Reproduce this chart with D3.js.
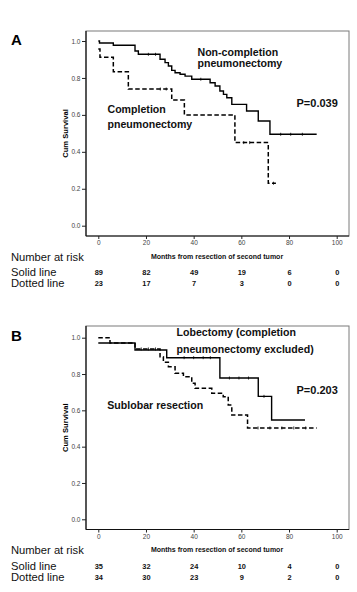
<!DOCTYPE html>
<html><head><meta charset="utf-8">
<script src="https://cdn.jsdelivr.net/npm/d3@7/dist/d3.min.js"></script>
<style>
html,body{margin:0;padding:0;background:#fff;}
svg{display:block;}
text{font-family:"Liberation Sans",Arial,sans-serif;}
</style></head>
<body>
<svg id="c" width="357" height="592"></svg>
<script>
// ---------- data ----------
const xTicks = [0, 20, 40, 60, 80, 100];
const yTicks = [0, 0.2, 0.4, 0.6, 0.8, 1.0];
const riskTimes = [0, 20, 40, 60, 80, 100];

// Panel A
const aSolidT = [0, 0.5, 6.3, 15.4, 16.8, 25.9, 28, 29.4, 30.8, 32.2, 34.3, 36.4, 39.2, 46.9, 49, 51, 52.5, 53.9, 56, 62.2, 67.1, 72, 91.6];
const aSolidS = [1.0, 0.989, 0.977, 0.946, 0.928, 0.901, 0.883, 0.865, 0.841, 0.828, 0.82, 0.81, 0.793, 0.774, 0.756, 0.729, 0.711, 0.693, 0.657, 0.621, 0.567, 0.495, 0.495];
const aSolidCens = [21, 24, 43, 76.5, 80.7, 85.6];
const aDotT = [0, 0.7, 6.3, 12.6, 30.8, 36.1, 57.3, 71.3, 74.5];
const aDotS = [0.957, 0.912, 0.834, 0.74, 0.68, 0.60, 0.45, 0.23, 0.23];
const aDotCens = [26, 28.5, 61, 63.5, 73.5];
const aRiskSolid = [89, 82, 49, 19, 6, 0];
const aRiskDot = [23, 17, 7, 3, 0, 0];

// Panel B
const bSolidT = [0, 15.4, 28.7, 51, 67.1, 72.7, 86.7];
const bSolidS = [0.971, 0.932, 0.89, 0.778, 0.677, 0.547, 0.547];
const bSolidCens = [36, 40, 44, 47, 55, 59, 63, 69.5];
const bDotT = [0, 4.9, 15.4, 25.9, 27.3, 29.4, 32.2, 35.7, 39.2, 40.6, 47.6, 52.4, 54.5, 56, 62.6, 91.6];
const bDotS = [1.0, 0.971, 0.938, 0.895, 0.865, 0.84, 0.804, 0.785, 0.749, 0.721, 0.694, 0.675, 0.629, 0.574, 0.503, 0.503];
const bDotCens = [18, 21, 24, 67, 72, 77, 82, 87];
const bRiskSolid = [35, 32, 24, 10, 4, 0];
const bRiskDot = [34, 30, 23, 9, 2, 0];

// ---------- drawing ----------
const svg = d3.select("#c");
svg.append("rect").attr("width", 357).attr("height", 592).attr("fill", "#fff");

function zip(T, S) { return T.map((t, i) => ({t, s: S[i]})); }
function stepAt(T, S, t) { let v = S[0]; for (let i = 0; i < T.length; i++) if (T[i] <= t) v = S[i]; return v; }

function drawPanel(p) {
  const g = svg.append("g");
  const x = d3.scaleLinear().domain([0, 100]).range([98.3, 336.7]);
  const y = d3.scaleLinear().domain([0, 1]).range([p.y0, p.y1]);

  // frame
  g.append("rect").attr("x", 86).attr("y", p.top).attr("width", 263).attr("height", p.bottom - p.top)
    .attr("fill", "none").attr("stroke", "#7a7a7a").attr("stroke-width", 1);
  g.append("line").attr("x1", 86).attr("x2", 86).attr("y1", p.top).attr("y2", p.bottom).attr("stroke", "#111").attr("stroke-width", 1.2);
  g.append("line").attr("x1", 86).attr("x2", 349).attr("y1", p.bottom).attr("y2", p.bottom).attr("stroke", "#111").attr("stroke-width", 1.2);

  // axes
  const ya = g.append("g").attr("transform", "translate(86,0)")
    .call(d3.axisLeft(y).tickValues(yTicks).tickFormat(d3.format(".1f")).tickSize(4).tickPadding(1.5));
  ya.select(".domain").remove();
  ya.selectAll("text").attr("font-size", 6.5).attr("fill", "#444").attr("font-family", "Liberation Sans, Arial, sans-serif");
  ya.selectAll("line").attr("stroke", "#222");

  const xa = g.append("g").attr("transform", `translate(0,${p.bottom})`)
    .call(d3.axisBottom(x).tickValues(xTicks).tickFormat(d3.format("d")).tickSize(3).tickPadding(1.5));
  xa.select(".domain").remove();
  xa.selectAll("text").attr("font-size", 6.5).attr("fill", "#444").attr("font-family", "Liberation Sans, Arial, sans-serif");
  xa.selectAll("line").attr("stroke", "#222");

  // y label
  g.append("text").attr("transform", `translate(${p.ylabX},${(p.top + p.bottom) / 2}) rotate(-90)`)
    .attr("text-anchor", "middle").attr("font-size", 7.6).attr("font-weight", "bold").text("Cum Survival");

  // curves
  const line = d3.line().x(d => x(d.t)).y(d => y(d.s)).curve(d3.curveStepAfter);
  g.append("path").attr("d", line(zip(p.solidT, p.solidS))).attr("fill", "none").attr("stroke", "#000").attr("stroke-width", 1.4);
  g.append("path").attr("d", line(zip(p.dotT, p.dotS))).attr("fill", "none").attr("stroke", "#000").attr("stroke-width", 1.5).attr("stroke-dasharray", "4.5,2.5");

  // censor marks
  p.solidCens.forEach(t => {
    const v = stepAt(p.solidT, p.solidS, t);
    g.append("line").attr("x1", x(t)).attr("x2", x(t)).attr("y1", y(v) - 1.5).attr("y2", y(v) + 1.5).attr("stroke", "#000").attr("stroke-width", 0.8);
  });
  p.dotCens.forEach(t => {
    const v = stepAt(p.dotT, p.dotS, t);
    g.append("line").attr("x1", x(t)).attr("x2", x(t)).attr("y1", y(v) - 1.5).attr("y2", y(v) + 1.5).attr("stroke", "#000").attr("stroke-width", 0.8);
  });

  // panel letter
  g.append("text").attr("x", 11).attr("y", p.letterY).attr("font-size", 15).attr("font-weight", "bold").text(p.letter);

  // annotations
  p.notes.forEach(n => {
    g.append("text").attr("x", n.x).attr("y", n.y).attr("font-size", n.size || 10.6).attr("font-weight", "bold")
      .attr("fill", "#111").text(n.text);
  });

  // number at risk
  const r0 = p.bottom;
  g.append("text").attr("x", 11).attr("y", r0 + 24.5).attr("font-size", 11.2).attr("fill", "#111").text("Number at risk");
  g.append("text").attr("x", 11).attr("y", r0 + 40).attr("font-size", 11.2).attr("fill", "#111").text("Solid line");
  g.append("text").attr("x", 11).attr("y", r0 + 51).attr("font-size", 11.2).attr("fill", "#111").text("Dotted line");
  g.append("text").attr("x", 217).attr("y", r0 + 22.5).attr("text-anchor", "middle").attr("font-size", 7).attr("font-weight", "bold").attr("fill", "#111")
    .text("Months from resection of second tumor");
  riskTimes.forEach((t, i) => {
    g.append("text").attr("x", x(t) + 0.5).attr("y", r0 + 39).attr("text-anchor", "middle").attr("font-size", 7.4).attr("font-weight", "bold").attr("fill", "#111").text(p.riskSolid[i]);
    g.append("text").attr("x", x(t) + 0.5).attr("y", r0 + 50).attr("text-anchor", "middle").attr("font-size", 7.4).attr("font-weight", "bold").attr("fill", "#111").text(p.riskDot[i]);
  });
}

drawPanel({
  letter: "A", letterY: 44.5, top: 31, bottom: 236, y0: 225.7, y1: 41, ylabX: 67.5,
  solidT: aSolidT, solidS: aSolidS, solidCens: aSolidCens,
  dotT: aDotT, dotS: aDotS, dotCens: aDotCens,
  riskSolid: aRiskSolid, riskDot: aRiskDot,
  notes: [
    {x: 197.5, y: 56.3, text: "Non-completion"},
    {x: 197.5, y: 66.8, text: "pneumonectomy"},
    {x: 107.5, y: 113.3, text: "Completion"},
    {x: 107.5, y: 127.6, text: "pneumonectomy"},
    {x: 296.5, y: 107.2, text: "P=0.039", size: 11}
  ]
});

drawPanel({
  letter: "B", letterY: 340.5, top: 326, bottom: 529.5, y0: 519.3, y1: 337.7, ylabX: 67.5,
  solidT: bSolidT, solidS: bSolidS, solidCens: bSolidCens,
  dotT: bDotT, dotS: bDotS, dotCens: bDotCens,
  riskSolid: bRiskSolid, riskDot: bRiskDot,
  notes: [
    {x: 176.5, y: 336, text: "Lobectomy (completion"},
    {x: 176.5, y: 352.5, text: "pneumonectomy excluded)"},
    {x: 107.3, y: 408.5, text: "Sublobar resection"},
    {x: 296.5, y: 394, text: "P=0.203", size: 11}
  ]
});
</script>
</body></html>
